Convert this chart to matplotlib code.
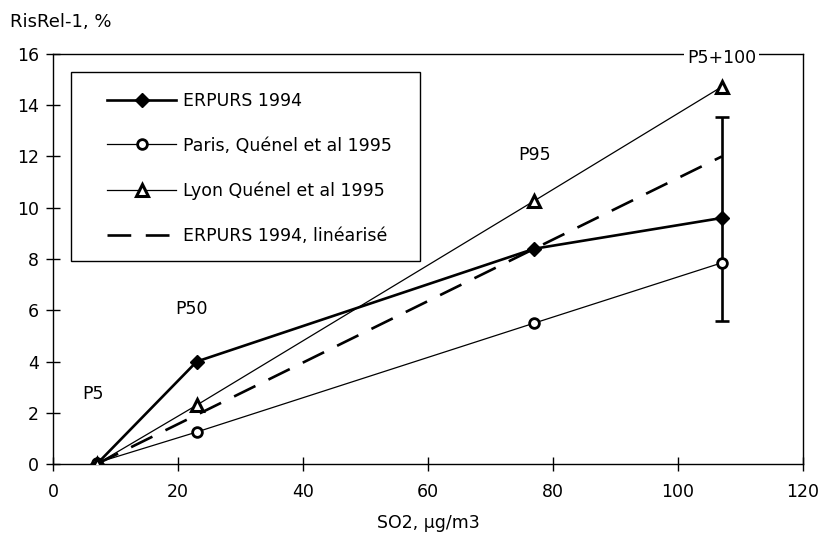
import matplotlib.pyplot as plt
import matplotlib.patches as patches

# SO2 concentrations (µg/m3) at P5, P50, P95, P5+100
so2 = [7, 23, 77, 107]

erpurs = [0.0, 4.0, 8.4, 9.6]
paris = [0.05, 1.25, 5.5, 7.85]
lyon = [0.0, 2.3, 10.27, 14.72]
erpurs_lin = [0.0, 1.92, 8.4, 12.0]

# confidence interval on ERPURS at the last point
erpurs_low = 5.57
erpurs_high = 13.55

point_labels = ["P5", "P50", "P95", "P5+100"]
label_x = [6.4, 22.2, 77, 107]
label_y = [2.73, 6.05, 12.07, 15.85]

plt.rcParams['font.family'] = ['DejaVu Sans']
plt.rcParams['font.size'] = 12.5

fig = plt.figure(figsize=(8.22, 5.34), dpi=100)
ax = fig.add_axes([0.0645, 0.131, 0.9125, 0.768])

l1, = ax.plot(so2, erpurs, color="black", lw=1.9, marker="D", ms=7,
              mfc="black", label="ERPURS 1994", zorder=4)
ax.errorbar([so2[-1]], [erpurs[-1]],
            yerr=[[erpurs[-1] - erpurs_low], [erpurs_high - erpurs[-1]]],
            fmt="none", ecolor="black", elinewidth=1.9, capsize=5,
            capthick=1.9, zorder=3)
l2, = ax.plot(so2, paris, color="black", lw=0.9, marker="o", ms=7,
              mfc="white", mew=2, label="Paris, Quénel et al 1995", zorder=5)
l3, = ax.plot(so2, lyon, color="black", lw=0.9, marker="^", ms=9,
              mfc="white", mew=2.2, label="Lyon Quénel et al 1995", zorder=5)
l4, = ax.plot(so2, erpurs_lin, color="black", lw=1.9, dashes=(9, 5.5),
              label="ERPURS 1994, linéarisé", zorder=2)

for txt, x, y in zip(point_labels, label_x, label_y):
    ax.text(x, y, txt, ha="center", va="center",
            bbox=dict(facecolor="white", edgecolor="none", pad=2),
            zorder=6, clip_on=False)

ax.set_xlim(0, 120)
ax.set_ylim(0, 16)
ax.set_xticks(range(0, 121, 20))
ax.set_yticks(range(0, 17, 2))
ax.tick_params(direction="inout", length=10, width=1, labelsize=12.5)
ax.tick_params(axis="x", pad=9)
ax.tick_params(axis="y", pad=5)
for sp in ax.spines.values():
    sp.set_linewidth(1)

ax.set_xlabel("SO2, µg/m3", labelpad=9)
fig.text(0.012, 0.959, "RisRel-1, %", fontsize=13, ha="left", va="center")

# legend box
box = patches.Rectangle((0.024, 0.495), 0.465, 0.461, transform=ax.transAxes,
                        facecolor="white", edgecolor="black", lw=1, zorder=7)
ax.add_patch(box)
leg = ax.legend(handles=[l1, l2, l3, l4], loc="upper left",
                bbox_to_anchor=(0.072, 0.908), frameon=False,
                handlelength=4.0, handletextpad=0.35, labelspacing=1.55,
                borderaxespad=0, borderpad=0)
leg.set_zorder(8)

fig.savefig("out.png", dpi=100)
